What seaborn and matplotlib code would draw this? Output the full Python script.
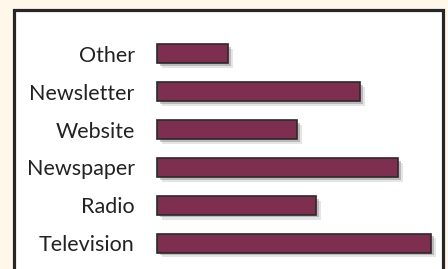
import matplotlib
matplotlib.use("Agg")
import matplotlib.pyplot as plt
import matplotlib.patheffects as pe
from matplotlib.patches import Rectangle
import pandas as pd
import seaborn as sns

# Data (bar lengths, Television = 100)
channels = ["Other", "Newsletter", "Website", "Newspaper", "Radio", "Television"]
values = [26, 74, 51, 88, 58, 100]

bar_color = "#7e2f4f"
edge_color = "#2a2a2a"

sns.set_style("white")
plt.rcParams["font.family"] = ["Lato", "DejaVu Sans"]

W, H = 448, 269
fig = plt.figure(figsize=(W / 100, H / 100), dpi=100, facecolor="#fff8ea")

# white framed panel behind the chart
panel = Rectangle((14 / W, -0.05), 429 / W, 1 - 10 / H + 0.05,
                  transform=fig.transFigure, facecolor="white",
                  edgecolor="#262626", linewidth=2.3, zorder=-1)
fig.patches.append(panel)

ax = fig.add_axes([157 / W, 1 - 262 / H, 274 / W, 227 / H])
ax.patch.set_alpha(0)

df = pd.DataFrame({"channel": channels, "value": values})
sns.barplot(data=df, x="value", y="channel", orient="h", order=channels,
            color=bar_color, saturation=1, width=0.5, ax=ax,
            edgecolor=edge_color, linewidth=1.2)

# soft drop shadow, down and to the right
for bar in ax.patches:
    bar.set_clip_on(False)
    bar.set_path_effects([
        pe.SimplePatchShadow(offset=(3.5, -3.5), shadow_rgbFace="#9a9a9a", alpha=0.25),
        pe.SimplePatchShadow(offset=(2, -2), shadow_rgbFace="#7a7a7a", alpha=0.4),
        pe.Normal(),
    ])

ax.set_xlim(0, 100)
ax.set_ylim(5.5, -0.5)
ax.set_xlabel("")
ax.set_ylabel("")
ax.set_xticks([])
ax.tick_params(axis="y", length=0, pad=16, labelsize=15.5, labelcolor="#222222")
sns.despine(ax=ax, left=True, bottom=True)

fig.savefig("out.png", dpi=100, facecolor=fig.get_facecolor())
